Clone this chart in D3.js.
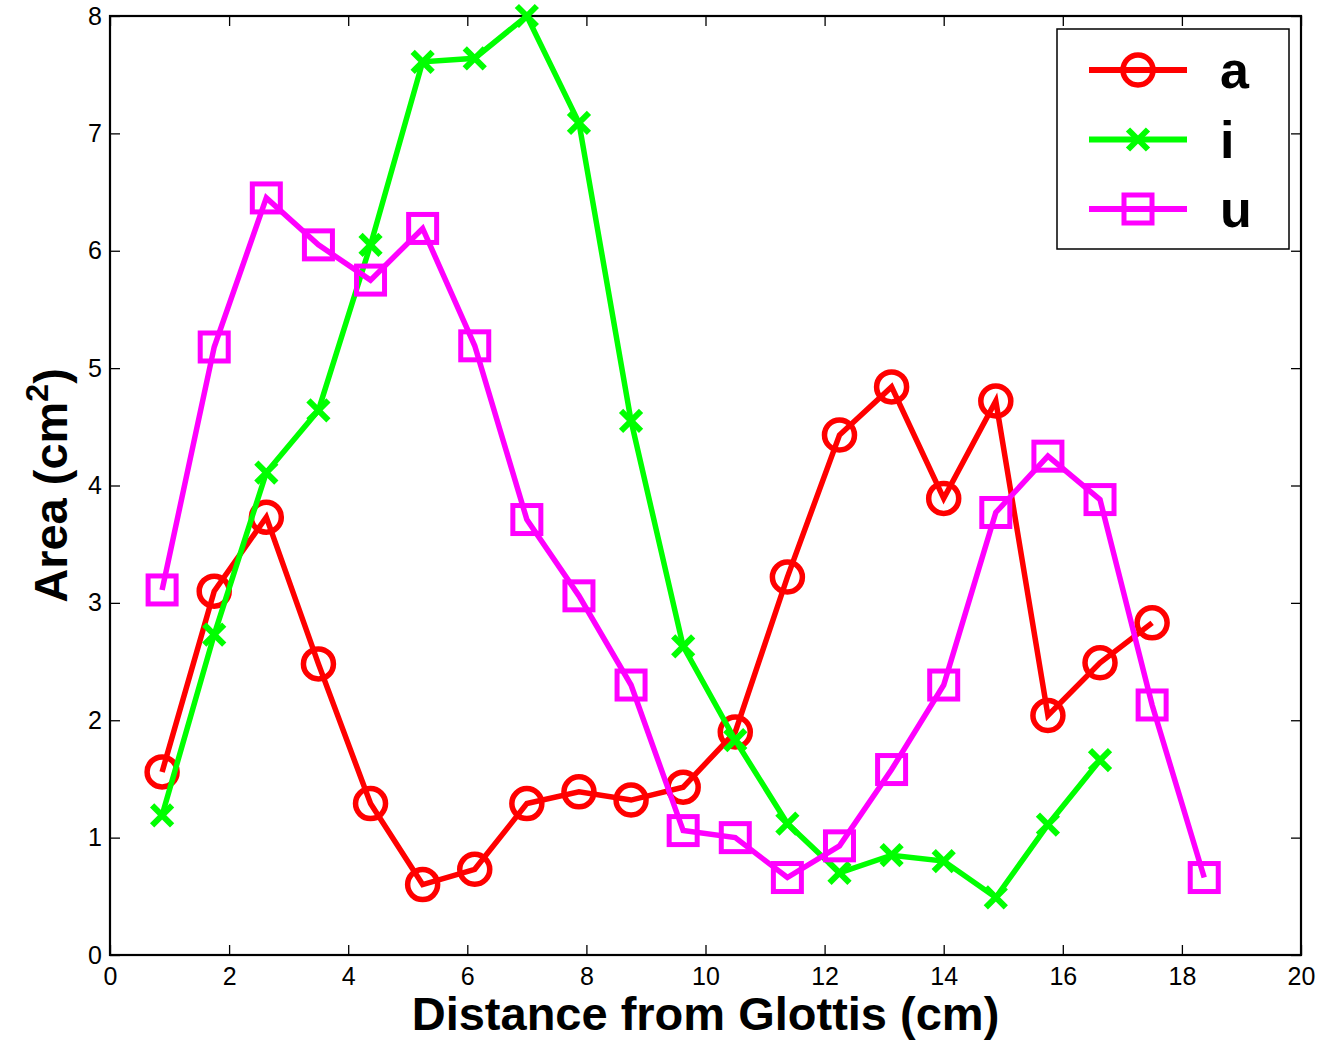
<!DOCTYPE html>
<html>
<head>
<meta charset="utf-8">
<script src="https://cdn.jsdelivr.net/npm/d3@7"></script>
<style>
  body { margin: 0; background: #fff; }
  svg { display: block; font-family: "Liberation Sans", Arial, sans-serif; }
</style>
</head>
<body>
<svg id="chart" width="1323" height="1048"></svg>
<script>
// distance from glottis, one section every 0.875 cm
const positions = [0.875, 1.75, 2.625, 3.5, 4.375, 5.25, 6.125, 7.0, 7.875, 8.75, 9.625,
                   10.5, 11.375, 12.25, 13.125, 14.0, 14.875, 15.75, 16.625, 17.5, 18.375];

const areaA = [1.56, 3.10, 3.73, 2.48, 1.29, 0.60, 0.73, 1.29, 1.39, 1.32, 1.43,
               1.90, 3.22, 4.43, 4.84, 3.89, 4.72, 2.04, 2.49, 2.83];
const areaI = [1.19, 2.73, 4.11, 4.64, 6.05, 7.61, 7.64, 8.00, 7.09, 4.55, 2.63,
               1.83, 1.12, 0.70, 0.85, 0.80, 0.49, 1.11, 1.66];
const areaU = [3.11, 5.18, 6.45, 6.05, 5.75, 6.19, 5.19, 3.71, 3.06, 2.30, 1.06,
               1.00, 0.66, 0.93, 1.58, 2.30, 3.77, 4.25, 3.88, 2.13, 0.66];

const xTicks = [0, 2, 4, 6, 8, 10, 12, 14, 16, 18, 20];
const yTicks = [0, 1, 2, 3, 4, 5, 6, 7, 8];

const seriesNames = ["a", "i", "u"];
const seriesColors = ["#ff0000", "#00ff00", "#ff00ff"];
const seriesMarkers = ["circle", "cross", "square"];

const svg = d3.select("#chart");
const margin = { top: 16, right: 22, bottom: 93, left: 110 };
const width = 1323, height = 1048;
const innerWidth = width - margin.left - margin.right;
const innerHeight = height - margin.top - margin.bottom;

const g = svg.append("g").attr("transform", `translate(${margin.left},${margin.top})`);

const x = d3.scaleLinear().domain([0, 20]).range([0, innerWidth]);
const y = d3.scaleLinear().domain([0, 8]).range([innerHeight, 0]);

// AXES (MATLAB style box, ticks pointing inwards)
function styleAxis(sel) {
    sel.attr("font-family", "Liberation Sans, Arial, sans-serif").attr("font-size", 25);
    sel.selectAll(".domain").remove();
    sel.selectAll("line").attr("stroke", "#000").attr("stroke-width", 1.3);
    sel.selectAll("text").attr("fill", "#000");
}

g.append("g")
    .attr("transform", `translate(0,${innerHeight})`)
    .call(d3.axisBottom(x).tickValues(xTicks).tickFormat(d3.format("d")).tickSizeInner(-10).tickPadding(12))
    .call(styleAxis);

g.append("g")
    .call(d3.axisTop(x).tickValues(xTicks).tickSizeInner(-10))
    .call(styleAxis)
    .selectAll("text").remove();

g.append("g")
    .call(d3.axisLeft(y).tickValues(yTicks).tickFormat(d3.format("d")).tickSizeInner(-10).tickPadding(8))
    .call(styleAxis);

g.append("g")
    .attr("transform", `translate(${innerWidth},0)`)
    .call(d3.axisRight(y).tickValues(yTicks).tickSizeInner(-10))
    .call(styleAxis)
    .selectAll("text").remove();

g.append("rect")
    .attr("width", innerWidth)
    .attr("height", innerHeight)
    .attr("fill", "none")
    .attr("stroke", "#000")
    .attr("stroke-width", 2.2);

// MARKERS
function drawMarker(sel, kind, color) {
    if (kind === "circle") {
        sel.append("circle").attr("r", 15)
            .attr("fill", "none").attr("stroke", color).attr("stroke-width", 5.5);
    } else if (kind === "square") {
        sel.append("rect").attr("x", -14).attr("y", -14).attr("width", 28).attr("height", 28)
            .attr("fill", "none").attr("stroke", color).attr("stroke-width", 5);
    } else {
        sel.append("path").attr("d", "M-10,-10L10,10M-10,10L10,-10")
            .attr("fill", "none").attr("stroke", color).attr("stroke-width", 6);
    }
}

const allSeries = [areaA, areaI, areaU];
const line = d3.line().x(d => x(d.pos)).y(d => y(d.val));

allSeries.forEach((vals, k) => {
    const data = vals.map((v, i) => ({ pos: positions[i], val: v }));
    g.append("path")
        .datum(data)
        .attr("fill", "none")
        .attr("stroke", seriesColors[k])
        .attr("stroke-width", 5.5)
        .attr("d", line);
    g.selectAll(".m" + k)
        .data(data)
        .enter().append("g")
        .attr("class", "m" + k)
        .attr("transform", d => `translate(${x(d.pos)},${y(d.val)})`)
        .each(function() { drawMarker(d3.select(this), seriesMarkers[k], seriesColors[k]); });
});

// LEGEND
const legend = svg.append("g").attr("transform", "translate(1057,29)");
legend.append("rect")
    .attr("width", 232).attr("height", 220)
    .attr("fill", "#fff").attr("stroke", "#000").attr("stroke-width", 1.5);

seriesNames.forEach((name, k) => {
    const row = legend.append("g").attr("transform", `translate(0,${41 + k * 69.5})`);
    row.append("line").attr("x1", 32).attr("x2", 130)
        .attr("stroke", seriesColors[k]).attr("stroke-width", 6);
    drawMarker(row.append("g").attr("transform", "translate(81,0)"), seriesMarkers[k], seriesColors[k]);
    row.append("text")
        .attr("x", 163).attr("y", 18)
        .attr("fill", "#000")
        .style("font-size", "52px").style("font-weight", "bold")
        .text(name);
});

// LABELS
svg.append("text")
    .attr("x", margin.left + innerWidth / 2)
    .attr("y", 1030)
    .attr("text-anchor", "middle")
    .style("font-size", "47px").style("font-weight", "bold")
    .text("Distance from Glottis (cm)");

const yl = svg.append("text")
    .attr("transform", `translate(67,${margin.top + innerHeight / 2}) rotate(-90)`)
    .attr("text-anchor", "middle")
    .style("font-size", "47px").style("font-weight", "bold");
yl.append("tspan").text("Area (cm");
yl.append("tspan").attr("dy", -19).style("font-size", "32px").text("2");
yl.append("tspan").attr("dy", 19).text(")");
</script>
</body>
</html>
